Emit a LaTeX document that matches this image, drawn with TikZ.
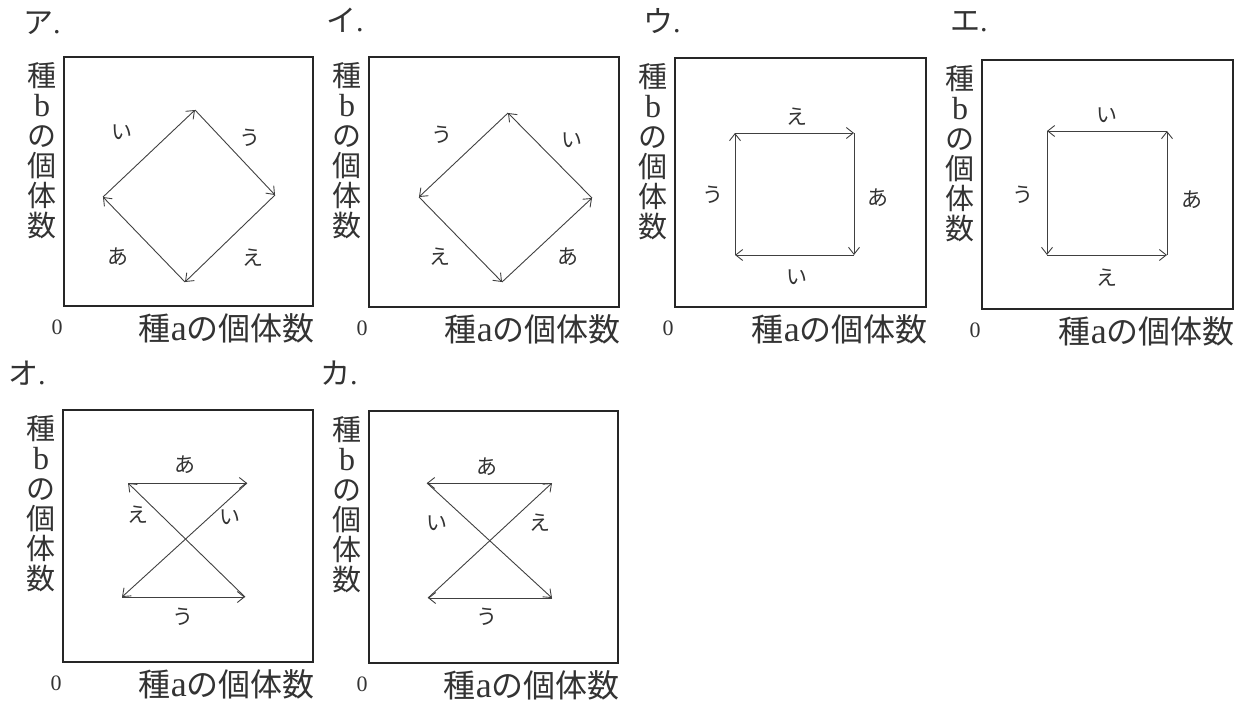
\documentclass[tikz,border=0pt]{standalone}
\usepackage{fontspec}
\setmainfont{Liberation Serif}
\newfontfamily\jp{Noto Sans CJK JP}
\usetikzlibrary{arrows.meta}
\tikzset{
  boxline/.style={draw=black!85, line width=1.5pt},
  arr/.style={draw=black!75, line width=0.9pt, -{Straight Barb[length=7pt,width=11pt,line width=0.9pt]}},
  ylab/.style={font=\jp\fontsize{29}{30}\selectfont, align=center, inner sep=0pt, text=black!80},
  xlab/.style={font=\jp\fontsize{32}{36}\selectfont, anchor=east, inner sep=0pt, text=black!80},
  zero/.style={font=\fontsize{22}{24}\selectfont, inner sep=0pt, text=black!80},
  plab/.style={font=\jp\fontsize{30}{32}\selectfont, anchor=west, inner sep=0pt, text=black!80},
  hl/.style={font=\jp\fontsize{21}{23}\selectfont, inner sep=0pt, text=black!80}
}
\newcommand{\drawframe}[5]{%
  \coordinate (#1tl) at (#2,#3);
  \coordinate (#1br) at (#4,#5);
  \draw[boxline] (#1tl) rectangle (#1br);
  \node[ylab] (#1y) at ({#2-22},{#3+94}) {種\\{\rmfamily\fontsize{32}{30}\selectfont b}\\の\\個\\体\\数};
  \node[zero] (#1z) at ({#2-7},{#5+21}) {0};
  \node[xlab] (#1x) at ({#4+2},{#5+22}) {種{\rmfamily\fontsize{36}{36}\selectfont a}の個体数};
}
\begin{document}
\begin{tikzpicture}[x=1pt,y=-1pt]
\useasboundingbox (0,0) rectangle (1245,704);

% ---------- ア ----------
\node[plab] (pa) at (23,23) {ア{\rmfamily .}};
\drawframe{A}{64}{57}{313}{306}
\coordinate (At) at (195,110);
\coordinate (Ar) at (275,195);
\coordinate (Ab) at (185,282);
\coordinate (Al) at (103,197);
\draw[arr] (Al) -- (At);
\draw[arr] (At) -- (Ar);
\draw[arr] (Ar) -- (Ab);
\draw[arr] (Ab) -- (Al);
\node[hl] (Ai) at (122,132) {い};
\node[hl] (Au) at (250,138) {う};
\node[hl] (Aa) at (118,257) {あ};
\node[hl] (Ae) at (253,258) {え};

% ---------- イ ----------
\node[plab] (pi) at (326,20) {イ{\rmfamily .}};
\drawframe{B}{369}{57}{619}{307}
\coordinate (Bt) at (508,113);
\coordinate (Br) at (592,198);
\coordinate (Bb) at (502,282);
\coordinate (Bl) at (419,197);
\draw[arr] (Br) -- (Bt);
\draw[arr] (Bt) -- (Bl);
\draw[arr] (Bl) -- (Bb);
\draw[arr] (Bb) -- (Br);
\node[hl] (Bu) at (442,135) {う};
\node[hl] (Bi) at (572,140) {い};
\node[hl] (Be) at (440,257) {え};
\node[hl] (Ba) at (568,257) {あ};

% ---------- ウ ----------
\node[plab] (pu) at (643,21) {ウ{\rmfamily .}};
\drawframe{C}{675}{58}{926}{307}
\coordinate (Ctl) at (735,133);
\coordinate (Ctr) at (854,133);
\coordinate (Cbr) at (854,255);
\coordinate (Cbl) at (735,255);
\draw[arr] (Ctl) -- (Ctr);
\draw[arr] (Ctr) -- (Cbr);
\draw[arr] (Cbr) -- (Cbl);
\draw[arr] (Cbl) -- (Ctl);
\node[hl] (Ce) at (797,117) {え};
\node[hl] (Ca) at (878,198) {あ};
\node[hl] (Ci) at (797,277) {い};
\node[hl] (Cu) at (713,195) {う};

% ---------- エ ----------
\node[plab] (pe) at (950,22) {エ{\rmfamily .}};
\drawframe{D}{982}{60}{1233}{309}
\coordinate (Dtl) at (1047,131);
\coordinate (Dtr) at (1167,131);
\coordinate (Dbr) at (1167,255);
\coordinate (Dbl) at (1047,255);
\draw[arr] (Dtr) -- (Dtl);
\draw[arr] (Dtl) -- (Dbl);
\draw[arr] (Dbl) -- (Dbr);
\draw[arr] (Dbr) -- (Dtr);
\node[hl] (Di) at (1107,115) {い};
\node[hl] (Du) at (1023,195) {う};
\node[hl] (Da) at (1192,200) {あ};
\node[hl] (De) at (1107,278) {え};

% ---------- オ ----------
\node[plab] (po) at (8,373) {オ{\rmfamily .}};
\drawframe{E}{63}{410}{313}{662}
\coordinate (Etl) at (128,483);
\coordinate (Etr) at (247,483);
\coordinate (Ebl) at (122,597);
\coordinate (Ebr) at (245,597);
\draw[arr] (Etl) -- (Etr);
\draw[arr] (Etr) -- (Ebl);
\draw[arr] (Ebl) -- (Ebr);
\draw[arr] (Ebr) -- (Etl);
\node[hl] (Ea) at (185,465) {あ};
\node[hl] (Ei) at (230,517) {い};
\node[hl] (Ee) at (138,515) {え};
\node[hl] (Eu) at (183,617) {う};

% ---------- カ ----------
\node[plab] (pk) at (320,373) {カ{\rmfamily .}};
\drawframe{F}{369}{411}{618}{663}
\coordinate (Ftl) at (427,483);
\coordinate (Ftr) at (552,483);
\coordinate (Fbl) at (428,598);
\coordinate (Fbr) at (552,598);
\draw[arr] (Ftr) -- (Ftl);
\draw[arr] (Ftl) -- (Fbr);
\draw[arr] (Fbr) -- (Fbl);
\draw[arr] (Fbl) -- (Ftr);
\node[hl] (Fa) at (487,467) {あ};
\node[hl] (Fi) at (437,523) {い};
\node[hl] (Fe) at (540,523) {え};
\node[hl] (Fu) at (487,617) {う};
\end{tikzpicture}
\end{document}
